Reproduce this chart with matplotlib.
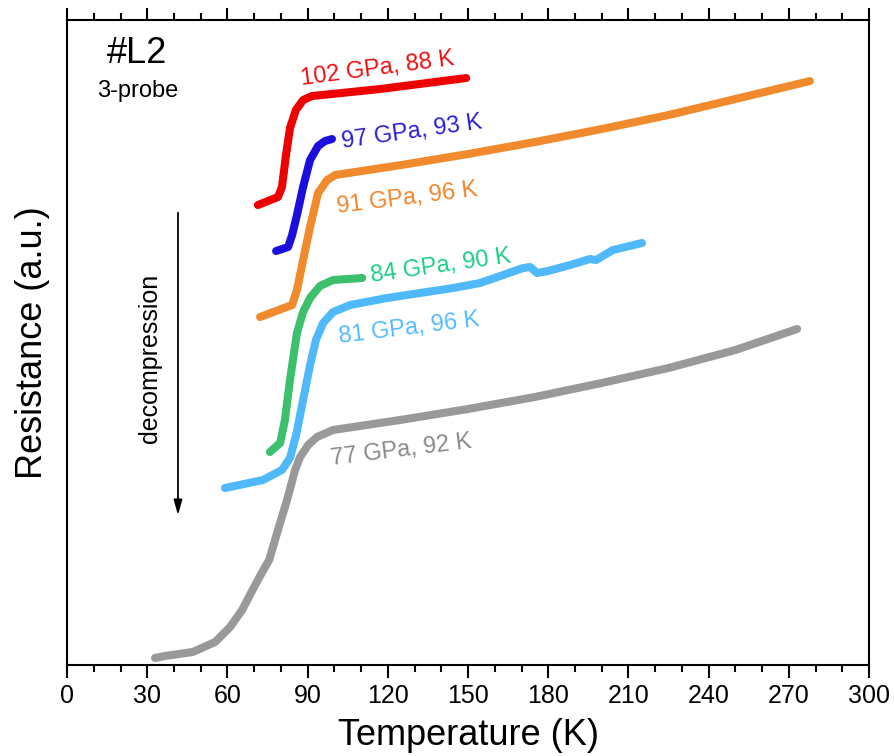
import matplotlib
matplotlib.use("Agg")
import matplotlib.pyplot as plt
from matplotlib.ticker import MultipleLocator

plt.rcParams['font.family'] = ['Liberation Sans', 'DejaVu Sans']

# R(T) curves, resistance in arbitrary units (offset for clarity)
t_102 = [71.4, 78.9, 80.4, 81.9, 83.4, 85.6, 88.3, 91.6, 117.1, 149.3]
r_102 = [460, 468, 478, 510, 537, 555, 565, 569, 576, 587]

t_97 = [78.2, 82.7, 84.2, 86.0, 88.3, 90.9, 93.9, 96.5, 99.1]
r_97 = [414, 418, 430, 450, 478, 505, 519, 524, 526]

t_91 = [72.2, 84.2, 86.0, 88.3, 90.9, 93.9, 97.3, 100.3, 125.0, 150.0,
        175.0, 200.0, 225.0, 250.0, 277.9]
r_91 = [348, 360, 375, 405, 438, 472, 485, 490, 500, 511,
        523, 536, 550, 566, 584]

t_84 = [75.9, 79.7, 81.5, 83.4, 86.0, 88.3, 90.9, 94.6, 99.5, 110.4]
r_84 = [213, 222, 245, 285, 332, 353, 367, 379, 385, 387]

t_81 = [59.1, 73.3, 80.4, 83.4, 85.7, 88.3, 90.9, 93.1, 95.8, 99.5, 105.9,
        119.7, 144.4, 154.5, 163.1, 170.6, 173.2, 175.8, 179.9, 188.2,
        195.6, 197.9, 204.2, 215.1]
r_81 = [177, 185, 195, 207, 230, 265, 300, 325, 342, 353, 360,
        367, 377, 382, 390, 397, 398, 392, 394, 400,
        406, 405, 415, 422]

t_77 = [32.9, 36.7, 47.1, 55.4, 61.0, 65.5, 68.8, 72.2, 75.6, 78.9, 82.3,
        85.3, 87.2, 90.2, 93.5, 99.5, 124.6, 150.0, 175.0, 200.0, 225.0,
        250.0, 273.1]
r_77 = [7, 9, 13, 23, 38, 55, 72, 89, 105, 135, 165,
        195, 208, 220, 228, 235, 245, 256, 268, 282, 297,
        315, 336]

curves = [
    (t_102, r_102, "#ee0000", "#ee1111", "102 GPa, 88 K", 87.9, 580, 7.5),
    (t_97, r_97, "#1a0fdc", "#2a1fd6", "97 GPa, 93 K", 102.9, 517, 8),
    (t_91, r_91, "#f08a2c", "#f0852d", "91 GPa, 96 K", 101.4, 452, 7),
    (t_84, r_84, "#3cc06c", "#1ccf86", "84 GPa, 90 K", 114.1, 383, 8),
    (t_81, r_81, "#4fb9fb", "#55bbff", "81 GPa, 96 K", 102.1, 322, 7),
    (t_77, r_77, "#999999", "#8a8a8a", "77 GPa, 92 K", 99.1, 200, 7),
]

fig = plt.figure(figsize=(8.95, 7.56), dpi=100)
ax = fig.add_axes([0.0749, 0.1204, 0.8961, 0.8531])

for t, r, lc, tc, label, lx, ly, rot in curves:
    ax.plot(t, r, color=lc, lw=5.8, solid_capstyle='round',
            solid_joinstyle='round')
    ax.text(lx, ly, label, color=tc, fontsize=17, rotation=rot,
            rotation_mode='anchor', ha='left', va='baseline')

ax.text(15.0, 602, "#L2", fontsize=26, ha='left', va='baseline')
ax.text(11.2, 568, "3-probe", fontsize=17, ha='left', va='baseline')

ax.annotate("", xy=(41.5, 147), xytext=(41.5, 455),
            arrowprops=dict(arrowstyle='-|>,head_width=0.25,head_length=0.9',
                            color='black', lw=1.3))
ax.text(31.0, 307, "decompression", fontsize=18, rotation=90,
        ha='center', va='center')

ax.set_xlim(0, 300)
ax.set_ylim(0, 645)
ax.xaxis.set_major_locator(MultipleLocator(30))
ax.xaxis.set_minor_locator(MultipleLocator(10))
ax.tick_params(axis='x', which='both', direction='out', top=True,
               labeltop=False, width=1.5, labelsize=18, pad=5)
ax.tick_params(axis='x', which='major', length=9)
ax.tick_params(axis='x', which='minor', length=5)
ax.set_yticks([])
for s in ax.spines.values():
    s.set_linewidth(1.5)

ax.set_xlabel("Temperature (K)", fontsize=26, labelpad=7)
ax.set_ylabel("Resistance (a.u.)", fontsize=26, labelpad=12)

fig.savefig("out.png", dpi=100)
